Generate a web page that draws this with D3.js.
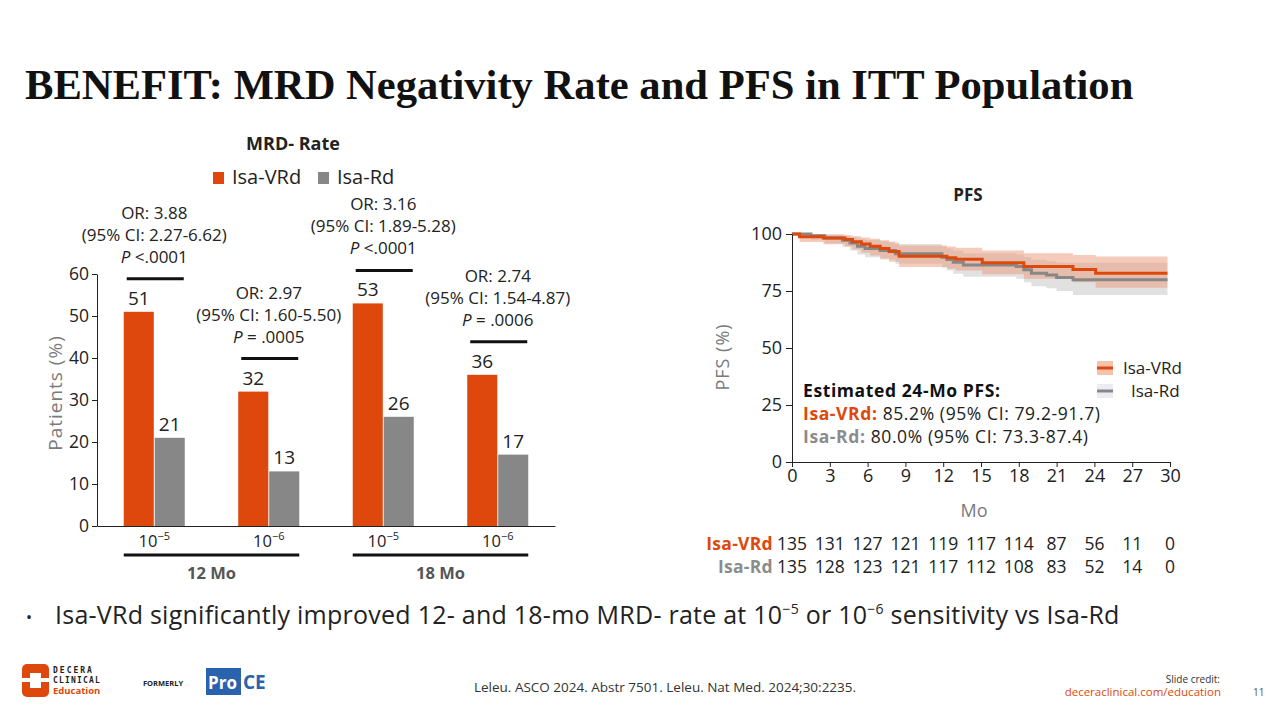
<!DOCTYPE html>
<html>
<head>
<meta charset="utf-8">
<script src="https://cdn.jsdelivr.net/npm/d3@7"></script>
<style>
body{margin:0;background:#fff;}
svg{display:block;font-family:"Open Sans",sans-serif;}
</style>
</head>
<body>
<svg id="slide" width="1280" height="720"></svg>
<script>
//// colours
const ORANGE = '#de480c';
const GREY = '#878787';
const INK = '#222';

//// MRD- rate bars
const groups = ['g1', 'g2', 'g3', 'g4'];
const timepoints = ['12 Mo', '18 Mo'];
const groupTimepoint = ['12 Mo', '12 Mo', '18 Mo', '18 Mo'];
const exponents = ['\u22125', '\u22126', '\u22125', '\u22126'];
const isaVRd = [51, 32, 53, 36];
const isaRd = [21, 13, 26, 17];
const orLabels = ['OR: 3.88', 'OR: 2.97', 'OR: 3.16', 'OR: 2.74'];
const ciLabels = ['(95% CI: 2.27-6.62)', '(95% CI: 1.60-5.50)', '(95% CI: 1.89-5.28)', '(95% CI: 1.54-4.87)'];
const pLabels = [' <.0001', ' = .0005', ' <.0001', ' = .0006'];
const barTicks = [0, 10, 20, 30, 40, 50, 60];

//// PFS curves
const vrdT  = [0, 0.6, 2.5, 4.2, 4.8, 5.5, 6.2, 7.0, 7.7, 8.5, 12.3, 13.0, 15.1, 18.4, 22.3, 24.1];
const vrdS  = [100, 98.8, 98.2, 97.6, 96.6, 95.6, 94.6, 93.6, 92.3, 90.2, 89.6, 88.9, 87.4, 85.7, 84.4, 82.8];
const vrdLo = [100, 96.5, 95.5, 94.5, 93.2, 91.8, 90.6, 89.3, 87.8, 85.5, 84.8, 84.0, 82.3, 80.4, 78.8, 76.4];
const vrdHi = [100, 100, 99.8, 99.5, 99.0, 98.5, 97.9, 97.3, 96.3, 95.0, 94.5, 94.0, 92.8, 91.6, 90.8, 90.1];
const rdT  = [0, 1.5, 2.6, 4.0, 4.6, 5.2, 5.8, 7.0, 8.2, 11.9, 12.3, 12.8, 13.6, 17.8, 18.4, 19.0, 20.2, 21.0, 22.3];
const rdS  = [100, 99.2, 98.3, 97.3, 96.0, 94.6, 93.6, 92.8, 91.3, 89.8, 88.8, 87.6, 86.4, 85.7, 84.3, 82.8, 82.0, 80.9, 79.9];
const rdLo = [100, 97.5, 95.8, 94.4, 92.8, 91.0, 89.8, 88.8, 87.0, 85.2, 84.0, 82.6, 81.2, 80.4, 78.8, 77.1, 76.2, 75.0, 73.3];
const rdHi = [100, 100, 99.8, 99.3, 98.7, 98.0, 97.4, 96.8, 95.6, 94.4, 93.6, 92.6, 91.6, 91.0, 89.9, 88.7, 88.0, 87.4, 87.4];
const kmEnd = 29.8;
const pfsTicks = [0, 25, 50, 75, 100];
const monthTicks = [0, 3, 6, 9, 12, 15, 18, 21, 24, 27, 30];
const riskVRd = [135, 131, 127, 121, 119, 117, 114, 87, 56, 11, 0];
const riskRd = [135, 128, 123, 121, 117, 112, 108, 83, 52, 14, 0];

const svg = d3.select('#slide');

// title
svg.append('text')
  .attr('x', 25).attr('y', 99)
  .attr('font-family', '"Liberation Serif", serif')
  .attr('font-weight', 'bold')
  .attr('font-size', 42.6)
  .attr('fill', '#111')
  .text('BENEFIT: MRD Negativity Rate and PFS in ITT Population');

//// bar chart
const x0 = d3.scaleBand().domain(groups).range([97, 555]).paddingInner(0.467).paddingOuter(0.2335);
const x1 = d3.scaleBand().domain(['vrd', 'rd']).range([0, x0.bandwidth()]).paddingInner(0.03);
const yB = d3.scaleLinear().domain([0, 60]).range([526, 274]);

const bar = svg.append('g');

bar.append('text')
  .attr('x', 293).attr('y', 150)
  .attr('text-anchor', 'middle')
  .attr('font-weight', 'bold').attr('font-size', 18).attr('fill', INK)
  .text('MRD- Rate');

const legend = bar.append('g');
[['Isa-VRd', ORANGE, 213], ['Isa-Rd', GREY, 318]].forEach(([name, col, lx]) => {
  legend.append('rect').attr('x', lx).attr('y', 172).attr('width', 11).attr('height', 12).attr('fill', col);
  legend.append('text').attr('x', lx + 19).attr('y', 184)
    .attr('font-size', 20).attr('fill', INK).text(name);
});

const yAxisB = bar.append('g')
  .attr('transform', `translate(${x0.range()[0]},0)`)
  .call(d3.axisLeft(yB).tickValues(barTicks).tickSize(5).tickSizeOuter(0).tickPadding(3));
yAxisB.selectAll('text').attr('font-size', 17.5).attr('fill', INK).attr('font-family', '"Open Sans",sans-serif');
yAxisB.selectAll('line,path').attr('stroke', INK);

const xAxisB = bar.append('g')
  .attr('transform', `translate(0,${yB(0)})`)
  .call(d3.axisBottom(x0).tickSize(0).tickSizeOuter(0).tickPadding(9));
xAxisB.select('path').attr('stroke', INK);
xAxisB.selectAll('.tick text').text(null)
  .attr('font-size', 16.5).attr('fill', INK).attr('font-family', '"Open Sans",sans-serif')
  .each(function(d, i) {
    const t = d3.select(this);
    t.append('tspan').text('10');
    t.append('tspan').attr('dy', -7).attr('font-size', 11).text(exponents[i]);
  });

bar.append('text')
  .attr('transform', 'translate(62,393) rotate(-90)')
  .attr('text-anchor', 'middle')
  .attr('font-size', 19).attr('letter-spacing', 1).attr('fill', '#7a7a7a')
  .text('Patients (%)');

const gSel = bar.selectAll('.grp').data(groups).enter().append('g')
  .attr('class', 'grp')
  .attr('transform', d => `translate(${x0(d)},0)`);

gSel.each(function(g, i) {
  const el = d3.select(this);
  const vals = [['vrd', isaVRd[i], ORANGE], ['rd', isaRd[i], GREY]];
  vals.forEach(([k, v, col]) => {
    el.append('rect')
      .attr('x', x1(k)).attr('y', yB(v))
      .attr('width', x1.bandwidth()).attr('height', yB(0) - yB(v))
      .attr('fill', col);
    el.append('text')
      .attr('x', x1(k) + x1.bandwidth() / 2).attr('y', yB(v) - 7)
      .attr('text-anchor', 'middle').attr('font-size', 19).attr('fill', INK)
      .text(v);
  });
  const ly = yB(isaVRd[i]) - 33;
  el.append('line')
    .attr('x1', 3).attr('x2', x0.bandwidth() - 1)
    .attr('y1', ly).attr('y2', ly)
    .attr('stroke', '#111').attr('stroke-width', 3);
  const cx = x0.bandwidth() / 2;
  const tx = el.append('g').attr('text-anchor', 'middle').attr('font-size', 17).attr('fill', INK);
  tx.append('text').attr('x', cx).attr('y', ly - 60).text(orLabels[i]);
  tx.append('text').attr('x', cx).attr('y', ly - 38).text(ciLabels[i]);
  const pt = tx.append('text').attr('x', cx).attr('y', ly - 16);
  pt.append('tspan').attr('font-style', 'italic').text('P');
  pt.append('tspan').text(pLabels[i]);
});

// timepoint brackets
timepoints.forEach(tp => {
  const gs = groups.filter((g, i) => groupTimepoint[i] === tp);
  const a = x0(gs[0]);
  const b = x0(gs[gs.length - 1]) + x0.bandwidth();
  bar.append('line').attr('x1', a).attr('x2', b).attr('y1', 555).attr('y2', 555)
    .attr('stroke', '#111').attr('stroke-width', 3);
  bar.append('text').attr('x', (a + b) / 2).attr('y', 579)
    .attr('text-anchor', 'middle').attr('font-weight', 'bold').attr('font-size', 16.5)
    .attr('fill', '#555').text(tp);
});

//// PFS chart
const xK = d3.scaleLinear().domain([0, 30]).range([792, 1170]);
const yK = d3.scaleLinear().domain([0, 100]).range([462, 234]);
const km = svg.append('g');

km.append('text').attr('x', 968).attr('y', 201)
  .attr('text-anchor', 'middle').attr('font-weight', 'bold').attr('font-size', 17).attr('fill', INK)
  .text('PFS');

function series(T, S, L, H) {
  const pts = T.map((t, i) => ({ t, s: S[i], lo: L[i], hi: H[i] }));
  const last = pts[pts.length - 1];
  pts.push({ t: kmEnd, s: last.s, lo: last.lo, hi: last.hi });
  return pts;
}
const sVRd = series(vrdT, vrdS, vrdLo, vrdHi);
const sRd = series(rdT, rdS, rdLo, rdHi);

const band = d3.area().curve(d3.curveStepAfter)
  .x(d => xK(d.t)).y0(d => yK(d.lo)).y1(d => yK(d.hi));
const line = d3.line().curve(d3.curveStepAfter)
  .x(d => xK(d.t)).y(d => yK(d.s));

km.append('path').attr('d', band(sRd)).attr('fill', '#c4c4c4').attr('opacity', 0.5);
km.append('path').attr('d', band(sVRd)).attr('fill', '#ec9a78').attr('opacity', 0.5);
km.append('path').attr('d', line(sRd)).attr('fill', 'none').attr('stroke', GREY).attr('stroke-width', 3);
km.append('path').attr('d', line(sVRd)).attr('fill', 'none').attr('stroke', ORANGE).attr('stroke-width', 3);

const yAxisK = km.append('g').attr('transform', `translate(${xK(0)},0)`)
  .call(d3.axisLeft(yK).tickValues(pfsTicks).tickSize(6).tickSizeOuter(0).tickPadding(4));
const xAxisK = km.append('g').attr('transform', `translate(0,${yK(0)})`)
  .call(d3.axisBottom(xK).tickValues(monthTicks).tickSize(5).tickSizeOuter(0).tickPadding(2));
[yAxisK, xAxisK].forEach(a => {
  a.selectAll('text').attr('font-size', 18).attr('fill', INK).attr('font-family', '"Open Sans",sans-serif');
  a.selectAll('line,path').attr('stroke', INK);
});

km.append('text').attr('transform', 'translate(729,357) rotate(-90)')
  .attr('text-anchor', 'middle').attr('font-size', 18).attr('letter-spacing', 1).attr('fill', '#7a7a7a').text('PFS (%)');
km.append('text').attr('x', 974).attr('y', 517)
  .attr('text-anchor', 'middle').attr('font-size', 18).attr('fill', '#7a7a7a').text('Mo');

// legend
[['Isa-VRd', ORANGE, '#f5c3ad', 368, 1123], ['Isa-Rd', GREY, '#ebebf5', 391, 1131]].forEach(([name, col, bg, ly, tx]) => {
  km.append('rect').attr('x', 1097).attr('y', ly - 7).attr('width', 16).attr('height', 14).attr('fill', bg);
  km.append('line').attr('x1', 1097).attr('x2', 1113).attr('y1', ly).attr('y2', ly)
    .attr('stroke', col).attr('stroke-width', 3);
  km.append('text').attr('x', tx).attr('y', ly + 6).attr('font-size', 17).attr('fill', INK).text(name);
});

// 24-month estimate
const est = km.append('g').attr('font-size', 17.5).attr('letter-spacing', 0.6);
est.append('text').attr('x', 803).attr('y', 397).attr('font-weight', 'bold').attr('fill', '#111')
  .text('Estimated 24-Mo PFS:');
const e1 = est.append('text').attr('x', 803).attr('y', 420);
e1.append('tspan').attr('font-weight', 'bold').attr('fill', ORANGE).text('Isa-VRd: ');
e1.append('tspan').attr('fill', INK).text('85.2% (95% CI: 79.2-91.7)');
const e2 = est.append('text').attr('x', 803).attr('y', 443);
e2.append('tspan').attr('font-weight', 'bold').attr('fill', '#8c8c8c').text('Isa-Rd: ');
e2.append('tspan').attr('fill', INK).text('80.0% (95% CI: 73.3-87.4)');

// number at risk
[['Isa-VRd', riskVRd, ORANGE, 550], ['Isa-Rd', riskRd, '#8c8c8c', 573]].forEach(([name, vals, col, ry]) => {
  km.append('text').attr('x', 773).attr('y', ry).attr('text-anchor', 'end')
    .attr('font-weight', 'bold').attr('font-size', 17.5).attr('letter-spacing', 0.3).attr('fill', col).text(name);
  km.selectAll(null).data(vals).enter().append('text')
    .attr('x', (d, i) => xK(monthTicks[i])).attr('y', ry)
    .attr('text-anchor', 'middle').attr('font-size', 17.5).attr('fill', INK)
    .text(d => d);
});

//// bullet
svg.append('text').attr('x', 26).attr('y', 623).attr('font-size', 16).attr('fill', INK).text('\u2022');
const bl = svg.append('text').attr('x', 55).attr('y', 624).attr('font-size', 25)
  .attr('letter-spacing', 0.25).attr('fill', INK);
bl.append('tspan').text('Isa-VRd significantly improved 12- and 18-mo MRD- rate at 10');
bl.append('tspan').attr('dy', -10).attr('font-size', 14).text('\u22125');
bl.append('tspan').attr('dy', 10).text(' or 10');
bl.append('tspan').attr('dy', -10).attr('font-size', 14).text('\u22126');
bl.append('tspan').attr('dy', 10).text(' sensitivity vs Isa-Rd');

//// footer
const ft = svg.append('g');
ft.append('rect').attr('x', 22).attr('y', 664).attr('width', 27).attr('height', 33).attr('rx', 5).attr('fill', ORANGE);
ft.append('rect').attr('x', 30).attr('y', 673).attr('width', 11).attr('height', 15).attr('fill', '#fff');
ft.append('rect').attr('x', 22).attr('y', 678).attr('width', 27).attr('height', 4).attr('fill', '#fff');
ft.append('text').attr('x', 53).attr('y', 673).attr('font-size', 8).attr('font-weight', 'bold')
  .attr('letter-spacing', 2).attr('fill', '#222').attr('font-family', '"DejaVu Sans Mono",monospace').text('DECERA');
ft.append('text').attr('x', 53).attr('y', 683).attr('font-size', 8).attr('font-weight', 'bold')
  .attr('letter-spacing', 1.2).attr('fill', '#222').attr('font-family', '"DejaVu Sans Mono",monospace').text('CLINICAL');
ft.append('text').attr('x', 53).attr('y', 694).attr('font-size', 9.5).attr('font-weight', 'bold')
  .attr('fill', ORANGE).text('Education');
ft.append('text').attr('x', 143).attr('y', 686).attr('font-size', 7.5).attr('font-weight', 'bold')
  .attr('fill', '#222').text('FORMERLY');
ft.append('rect').attr('x', 206).attr('y', 668).attr('width', 35).attr('height', 27).attr('fill', '#2a63ad');
ft.append('text').attr('x', 208).attr('y', 689).attr('font-size', 17).attr('font-weight', 'bold')
  .attr('fill', '#fff').text('Pro');
ft.append('text').attr('x', 243).attr('y', 689).attr('font-size', 19).attr('font-weight', 'bold')
  .attr('fill', '#2a63ad').text('CE');
ft.append('text').attr('x', 665).attr('y', 692).attr('text-anchor', 'middle').attr('font-size', 13.5)
  .attr('fill', '#333').text('Leleu. ASCO 2024. Abstr 7501. Leleu. Nat Med. 2024;30:2235.');
ft.append('text').attr('x', 1220).attr('y', 683).attr('text-anchor', 'end').attr('font-size', 10)
  .attr('fill', '#333').text('Slide credit:');
ft.append('text').attr('x', 1221).attr('y', 696).attr('text-anchor', 'end').attr('font-size', 11.5)
  .attr('fill', ORANGE).text('deceraclinical.com/education');
ft.append('text').attr('x', 1253).attr('y', 696).attr('font-size', 10).attr('fill', '#555').text('11');
</script>
</body>
</html>
